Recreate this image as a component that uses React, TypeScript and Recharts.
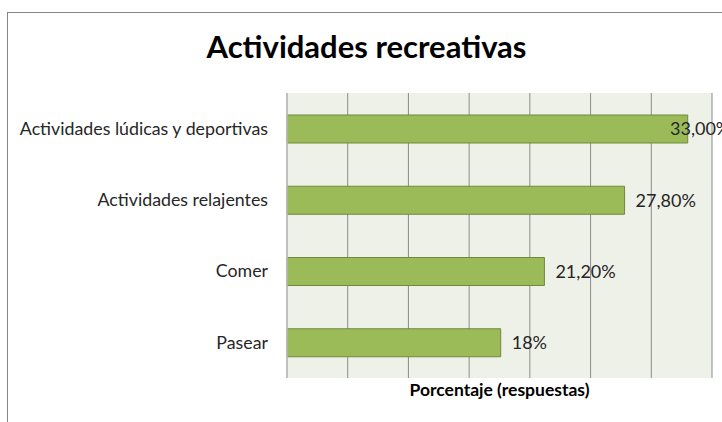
import { Bar, BarChart, CartesianGrid, LabelList, XAxis, YAxis } from "recharts";

const categories = [
  "Actividades lúdicas y deportivas",
  "Actividades relajentes",
  "Comer",
  "Pasear",
];
const values = [33, 27.8, 21.2, 17.6];
const valueLabels = ["33,00%", "27,80%", "21,20%", "18%"];
const xTicks = [0, 5, 10, 15, 20, 25, 30, 35];

const data = categories.map((name, i) => ({
  name,
  value: values[i],
  label: valueLabels[i],
}));

const W = 722;
const H = 422;
const FONT = "Lato, 'Open Sans', sans-serif";

function ValueLabel(props: any) {
  const { x, y, width, height, index } = props;
  const tx = Math.min(x + width + 11, W - 52);
  return (
    <text
      x={tx}
      y={y + height / 2}
      dy="0.35em"
      fontSize={18}
      fontFamily={FONT}
      fill="#262626"
    >
      {valueLabels[index]}
    </text>
  );
}

export default function App() {
  return (
    <div
      style={{
        position: "absolute",
        left: 0,
        top: 0,
        width: W,
        height: H,
        background: "#fff",
        fontFamily: FONT,
        overflow: "hidden",
      }}
    >
      <div
        style={{
          position: "absolute",
          left: 7,
          top: 12,
          right: 0,
          bottom: 0,
          borderTop: "1.5px solid #868686",
          borderLeft: "1.5px solid #868686",
        }}
      />
      <div
        style={{
          position: "absolute",
          left: 0,
          width: 733,
          top: 27,
          textAlign: "center",
          fontSize: 31,
          fontWeight: 700,
          color: "#000",
          whiteSpace: "nowrap",
        }}
      >
        Actividades recreativas
      </div>
      <div style={{ position: "absolute", left: 0, top: 0 }}>
        <BarChart
          width={W}
          height={H}
          data={data}
          layout="vertical"
          margin={{ top: 93, right: 10, bottom: 14, left: 7 }}
        >
          <CartesianGrid
            horizontal={false}
            stroke="#8c8c8c"
            fill="#eef1e8"
          />
          <XAxis
            type="number"
            domain={[0, 35]}
            ticks={xTicks}
            tick={() => <g />}
            tickLine={false}
            axisLine={false}
            height={30}
            label={{
              value: "Porcentaje (respuestas)",
              position: "insideTop",
              offset: 6,
              fontSize: 17.5,
              fontWeight: 700,
              fill: "#000",
              fontFamily: FONT,
            }}
          />
          <YAxis
            type="category"
            dataKey="name"
            width={280}
            tickLine={false}
            tickSize={0}
            tickMargin={19}
            axisLine={{ stroke: "#bfbfbf", strokeWidth: 1.5 }}
            tick={{ fill: "#262626", fontSize: 17.8, fontFamily: FONT }}
          />
          <Bar
            dataKey="value"
            fill="#9bbb59"
            stroke="#71893f"
            strokeWidth={1}
            barSize={28}
            isAnimationActive={false}
          >
            <LabelList dataKey="label" content={ValueLabel} />
          </Bar>
        </BarChart>
      </div>
    </div>
  );
}
